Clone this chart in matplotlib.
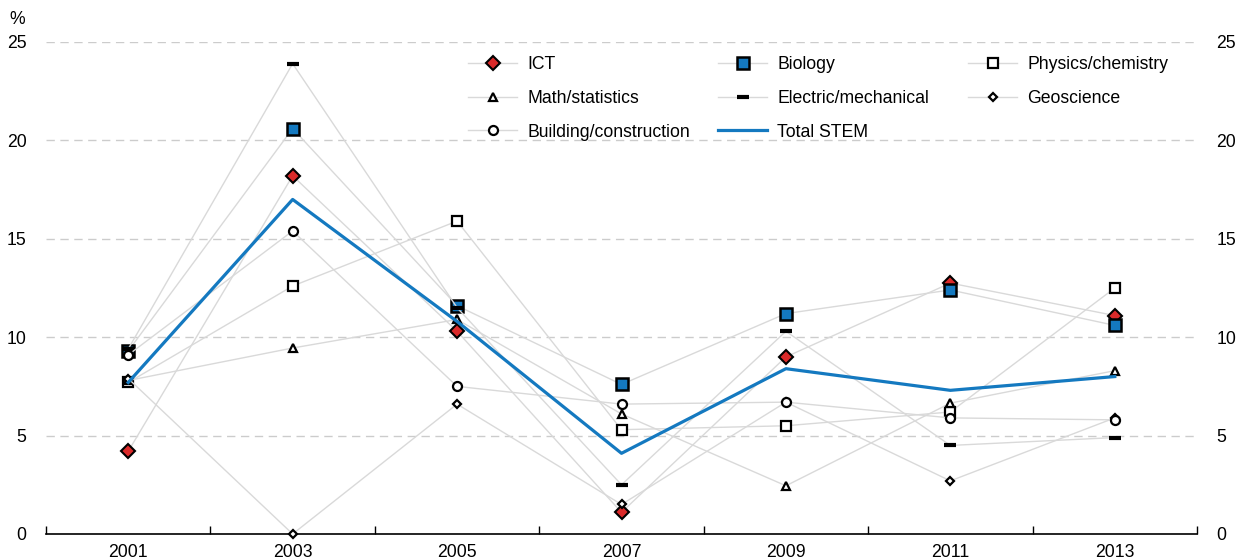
import matplotlib
matplotlib.use('Agg')
import matplotlib.pyplot as plt
import numpy as np

plt.rcParams['font.family'] = ['Liberation Sans', 'DejaVu Sans']

years = ['2001', '2003', '2005', '2007', '2009', '2011', '2013']

ict = [4.2, 18.2, 10.3, 1.1, 9.0, 12.75, 11.1]
biology = [9.3, 20.6, 11.6, 7.6, 11.2, 12.4, 10.6]
physics = [7.7, 12.6, 15.9, 5.3, 5.5, 6.2, 12.5]
math_stat = [7.8, 9.45, 10.9, 6.1, 2.45, 6.65, 8.3]
electric = [9.4, 23.9, 11.5, 2.5, 10.3, 4.5, 4.9]
geoscience = [7.9, 0.0, 6.6, 1.5, 6.7, 2.7, 5.9]
building = [9.1, 15.4, 7.5, 6.6, 6.7, 5.9, 5.8]
total_stem = [7.7, 17.0, 10.8, 4.1, 8.4, 7.3, 8.0]

x = np.arange(len(years))
grey = '#d9d9d9'
red = '#da2a2a'
blue = '#1479c0'
fs = 12.7

fig = plt.figure(figsize=(12.47, 5.6), dpi=100)
ax = fig.add_axes([46 / 1247, 1 - 534 / 560, (1197 - 46) / 1247, (534 - 42) / 560])

common = dict(color=grey, lw=1, mec='black', clip_on=False, zorder=3)
h_ict, = ax.plot(x, ict, marker='D', ms=7, mfc=red, mew=1.5, label='ICT', **common)
h_bio, = ax.plot(x, biology, marker='s', ms=8.5, mfc=blue, mew=1.8, label='Biology', **common)
h_phy, = ax.plot(x, physics, marker='s', ms=7, mfc='white', mew=1.6, label='Physics/chemistry', **common)
h_math, = ax.plot(x, math_stat, marker='^', ms=6, mfc='white', mew=1.6, label='Math/statistics', **common)
h_ele, = ax.plot(x, electric, marker='_', ms=8, mew=3, label='Electric/mechanical', **common)
h_geo, = ax.plot(x, geoscience, marker='D', ms=4.5, mfc='white', mew=1.6, label='Geoscience', **common)
h_bui, = ax.plot(x, building, marker='o', ms=6.5, mfc='white', mew=1.6, label='Building/construction', **common)
h_tot, = ax.plot(x, total_stem, color=blue, lw=2.3, label='Total STEM', zorder=5)

ax.set_xlim(-0.5, len(years) - 0.5)
ax.set_ylim(0, 25)
ax.set_yticks([0, 5, 10, 15, 20, 25])
ax.set_xticks(x)
ax.set_xticklabels(years)
ax.set_xticks(np.arange(-0.5, len(years), 1), minor=True)
ax.tick_params(axis='x', which='major', length=0, labelsize=fs, pad=7)
ax.tick_params(axis='x', which='minor', length=6, direction='in', width=1)
ax.tick_params(axis='y', length=0, labelsize=fs, pad=14,
               labelleft=True, labelright=True)
ax.grid(axis='y', color='#cccccc', ls=(0, (6, 4)), lw=1)
ax.set_axisbelow(True)
for s in ['left', 'right', 'top']:
    ax.spines[s].set_visible(False)
ax.spines['bottom'].set_linewidth(1.2)
fig.text(17 / 1247, 1 - 28 / 560, '%', fontsize=fs, ha='center', va='bottom')

cols = [[h_ict, h_math, h_bui], [h_bio, h_ele, h_tot], [h_phy, h_geo]]
xpos = [468, 718, 968]
for hs, xp in zip(cols, xpos):
    leg = fig.legend(handles=hs, loc='upper left', bbox_to_anchor=(xp / 1247, 1 - 56 / 560),
                     frameon=False, fontsize=fs, ncol=1, handlelength=2.8,
                     handletextpad=0.55, labelspacing=0.95, borderpad=0, borderaxespad=0)

fig.savefig('out.png', dpi=100)
